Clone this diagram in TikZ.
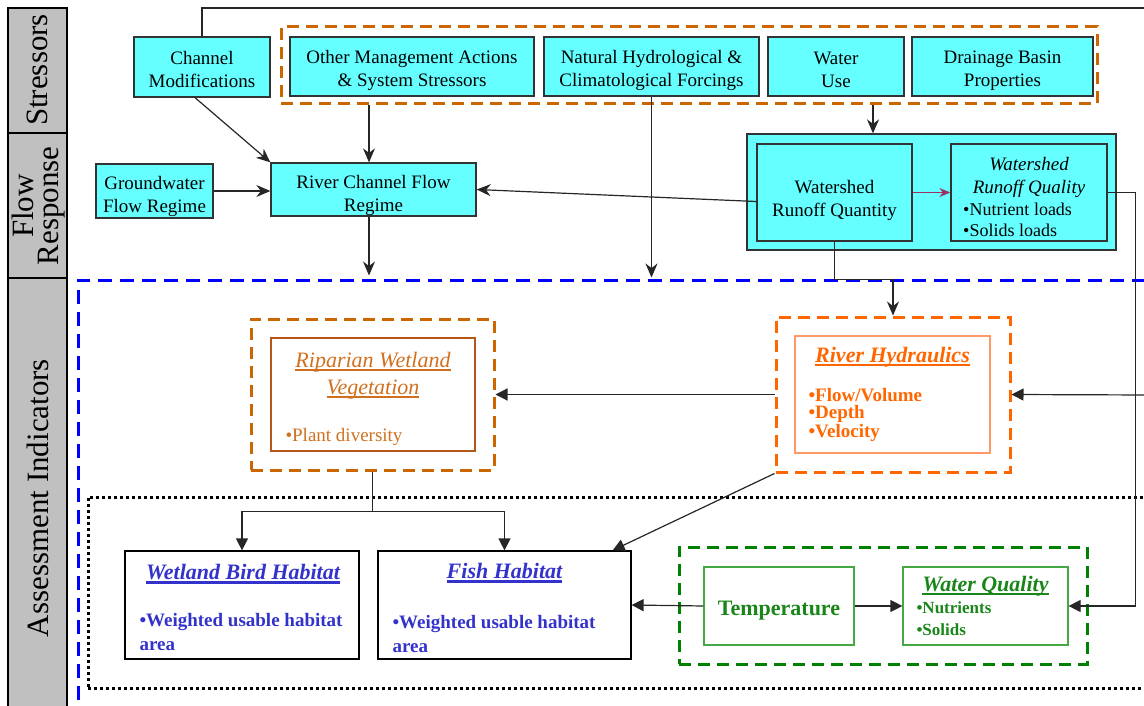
\documentclass[tikz,border=0pt]{standalone}
\usepackage{fontspec}
\setmainfont{Liberation Serif}
\usetikzlibrary{arrows.meta}
\definecolor{cyanfill}{HTML}{66FFFF}
\definecolor{bordergray}{HTML}{333333}
\definecolor{sidegray}{HTML}{C0C0C0}
\definecolor{dorange}{HTML}{CC6600}
\definecolor{riptext}{HTML}{D0701E}
\definecolor{ripborder}{HTML}{B8561A}
\definecolor{rhorange}{HTML}{FF6600}
\definecolor{rhborder}{HTML}{FF9966}
\definecolor{habblue}{HTML}{3333CC}
\definecolor{dgreen}{HTML}{008000}
\definecolor{lgreen}{HTML}{44A844}
\definecolor{tgreen}{HTML}{1A861A}
\definecolor{purp}{HTML}{993366}
\newcommand\myul[1]{\setbox0\hbox{#1}\rlap{\rule[-4pt]{\wd0}{2.2pt}}\box0}
\begin{document}
\begin{tikzpicture}[x=1pt,y=-1pt,
  cbox/.style={draw=bordergray, fill=cyanfill, line width=1.3pt, inner sep=0pt},
  ctext/.style={align=center, inner sep=0pt, font=\fontsize{19}{23}\selectfont},
  grpO/.style={draw=dorange, line width=3pt, dash pattern=on 12pt off 7pt, inner sep=0pt},
  grpRH/.style={draw=rhorange, line width=3pt, dash pattern=on 12pt off 7pt, inner sep=0pt},
  grpG/.style={draw=dgreen, line width=3pt, dash pattern=on 12pt off 7pt, inner sep=0pt},
  grpB/.style={draw=blue, line width=3pt, dash pattern=on 14pt off 8pt, inner sep=0pt},
  grpD/.style={draw=black, line width=3pt, dash pattern=on 3pt off 3pt, inner sep=0pt},
  sidetext/.style={rotate=90, align=center, font=\fontsize{31}{25}\selectfont},
  plainbox/.style={draw, line width=1.2pt, inner sep=0pt},
  arr/.style={-{Stealth[length=14pt,width=12pt]}, line width=1.2pt, draw=black!85},
  arrT/.style={-{Triangle[length=12pt,width=12pt]}, line width=1.2pt, draw=black!85},
  conn/.style={line width=1.2pt, draw=black!85}
]
\useasboundingbox (0,0) rectangle (1144,706);

% sidebar
\fill[sidegray] (8,8) rectangle (67,710);
\draw[line width=2pt] (8,712) -- (8,8) -- (67,8) -- (67,712);
\draw[line width=2pt] (8,133) -- (67,133);
\draw[line width=2pt] (8,278) -- (67,278);
\node[sidetext] (sStress) at (37.5,70) {Stressors};
\node[sidetext] (sFlow) at (39,206) {Flow\\Response};
\node[sidetext] (sAssess) at (38,498) {Assessment Indicators};

% large groups
\node[grpB, minimum width=1090, minimum height=450] (assess) at (623,505) {};
\node[grpD, minimum width=1080, minimum height=191] (bio) at (628,592.5) {};

% stressors
\node[grpO, minimum width=816, minimum height=77] (stressgrp) at (689,65.5) {};
\node[cbox, minimum width=136, minimum height=60] (cm) at (202,67) {};
\node[ctext] (cmt) at ([yshift=-3pt]cm.center) {Channel\\Modifications};
\node[cbox, minimum width=244, minimum height=59] (om) at (412,66.5) {};
\node[ctext] (omt) at ([yshift=-4pt]om.center) {Other Management Actions\\\& System Stressors};
\node[cbox, minimum width=215, minimum height=59] (nh) at (651.5,66.5) {};
\node[ctext] (nht) at ([yshift=-4pt]nh.center) {Natural Hydrological \&\\Climatological Forcings};
\node[cbox, minimum width=136, minimum height=59] (wu) at (836,66.5) {};
\node[ctext] (wut) at ([yshift=-3pt]wu.center) {Water\\Use};
\node[cbox, minimum width=181, minimum height=59] (db) at (1002.5,66.5) {};
\node[ctext] (dbt) at ([yshift=-4pt]db.center) {Drainage Basin\\Properties};

% flow response
\node[cbox, minimum width=117, minimum height=54] (gw) at (154.5,191) {};
\node[ctext] (gwt) at ([yshift=-5pt]gw.center) {Groundwater\\Flow Regime};
\node[cbox, minimum width=205, minimum height=53] (rc) at (373.5,189.5) {};
\node[ctext] (rct) at ([yshift=-6pt]rc.center) {River Channel Flow\\Regime};
\node[cbox, minimum width=369, minimum height=116] (wsouter) at (931.5,192) {};
\node[cbox, minimum width=155, minimum height=97] (wq) at (834.5,192.5) {};
\node[ctext] (wqtext) at (834.5,200.5) {Watershed\\Runoff Quantity};
\node[cbox, minimum width=156, minimum height=97] (wql) at (1029,192.5) {};
\node[ctext, font=\fontsize{19}{23}\selectfont\itshape] (wqltitle) at (1029,177.5) {Watershed\\Runoff Quality};
\node[font=\fontsize{18}{21}\selectfont, align=left, anchor=west, inner sep=0pt] (wqlitems) at (963,219.5) {•Nutrient loads\\•Solids loads};

% riparian
\node[grpO, minimum width=243, minimum height=151] (rip) at (372.5,394.5) {};
\node[draw=ripborder, line width=1.2pt, minimum width=204, minimum height=113, inner sep=0pt] (ripin) at (373,394.5) {};
\node[text=riptext, font=\fontsize{22}{27}\selectfont\itshape, align=center] (riptitle) at (373,375.5) {\myul{Riparian Wetland}\\\myul{Vegetation}};
\node[text=riptext, font=\fontsize{19}{23}\selectfont, anchor=west] (ripitem) at (282,437) {•Plant diversity};

% river hydraulics
\node[grpRH, minimum width=234, minimum height=155] (rh) at (893,394.5) {};
\node[draw=rhborder, line width=1.2pt, minimum width=195, minimum height=117, inner sep=0pt] (rhin) at (892.5,394.5) {};
\node[text=rhorange, font=\fontsize{22}{27}\selectfont\bfseries\itshape] (rhtitle) at (892.5,357) {\myul{River Hydraulics}};
\node[text=rhorange, font=\fontsize{19}{17}\selectfont\bfseries, align=left, anchor=west] (rhitems) at (805,415) {•Flow/Volume\\•Depth\\•Velocity};

% habitats
\node[plainbox, minimum width=234, minimum height=108] (bird) at (242,605) {};
\node[text=habblue, font=\fontsize{22}{27}\selectfont\bfseries\itshape] (birdtitle) at (243,574) {\myul{Wetland Bird Habitat}};
\node[text=habblue, font=\fontsize{19}{24}\selectfont\bfseries, align=left, anchor=west] (birditem) at (136,632) {•Weighted usable habitat\\area};
\node[plainbox, minimum width=253, minimum height=108] (fish) at (504.5,605) {};
\node[text=habblue, font=\fontsize{22}{27}\selectfont\bfseries\itshape] (fishtitle) at (504.5,573) {\myul{Fish Habitat}};
\node[text=habblue, font=\fontsize{19}{24}\selectfont\bfseries, align=left, anchor=west] (fishitem) at (389,634) {•Weighted usable habitat\\area};

% water quality group
\node[grpG, minimum width=408, minimum height=117] (green) at (883,605.5) {};
\node[draw=lgreen, line width=1.2pt, minimum width=150, minimum height=78, inner sep=0pt] (temp) at (779,606) {};
\node[text=tgreen, font=\fontsize{22}{26}\selectfont\bfseries, inner sep=0pt] (tempt) at ([yshift=-5pt]temp.center) {Temperature};
\node[draw=lgreen, line width=1.2pt, minimum width=165, minimum height=78, inner sep=0pt] (wqual) at (985.5,606) {};
\node[text=tgreen, font=\fontsize{22}{27}\selectfont\bfseries\itshape] (wqualtitle) at (985.5,586) {\myul{Water Quality}};
\node[text=tgreen, font=\fontsize{17}{22}\selectfont\bfseries, align=left, anchor=west] (wqualitems) at (913,619) {•Nutrients\\•Solids};

% free ends
\coordinate (topR) at (1150,8);
\coordinate (rhR) at (1150,395);
\coordinate (wux) at (873,0);
\coordinate (omx) at (369,0);
\coordinate (rcb) at (rc.south -| omx);
\coordinate (rcend) at (rcb |- assess.north);
\coordinate (nhend) at (nh.south |- assess.north);

% connectors
\draw[conn] (cm.north) |- (topR);
\draw[arr] ([xshift=-7pt]cm.south) -- (rc.north west);
\draw[arr] (stressgrp.south -| omx) -- (rc.north -| omx);
\draw[arr] (nh.south) -- ([yshift=1pt]nhend);
\draw[arr] (stressgrp.south -| wux) -- (wsouter.north -| wux);
\draw[arr] (gw.east) -- (rc.west |- gw.east);
\draw[arr] ([yshift=-9pt]wq.west) -- (rc.east);
\draw[arr] (rcb) -- ([yshift=3pt]rcend);
\draw[-{Stealth[length=11pt,width=9pt]}, line width=1.2pt, draw=purp] (wq.east) -- (wql.west);
\draw[arr] (wq.south) |- ([yshift=-1pt]assess.north -| rh.north) -- (rh.north);
\draw[arrT] (wql.east) -- ++(28,0) |- (wqual.east);
\draw[arrT] (rhR) -- (rh.east);
\draw[arrT] (rh.west) -- (rip.east);
\draw[conn] (rip.south) -- ++(0,40) coordinate (split);
\draw[arrT] (split) -| (bird.north);
\draw[arrT] (split) -| (fish.north);
\draw[arrT] (rh.south west) -- ([xshift=-19pt]fish.north east);
\draw[arrT] (temp.west) -- (fish.east);
\draw[arrT] (temp.east) -- (wqual.west);
\end{tikzpicture}
\end{document}
